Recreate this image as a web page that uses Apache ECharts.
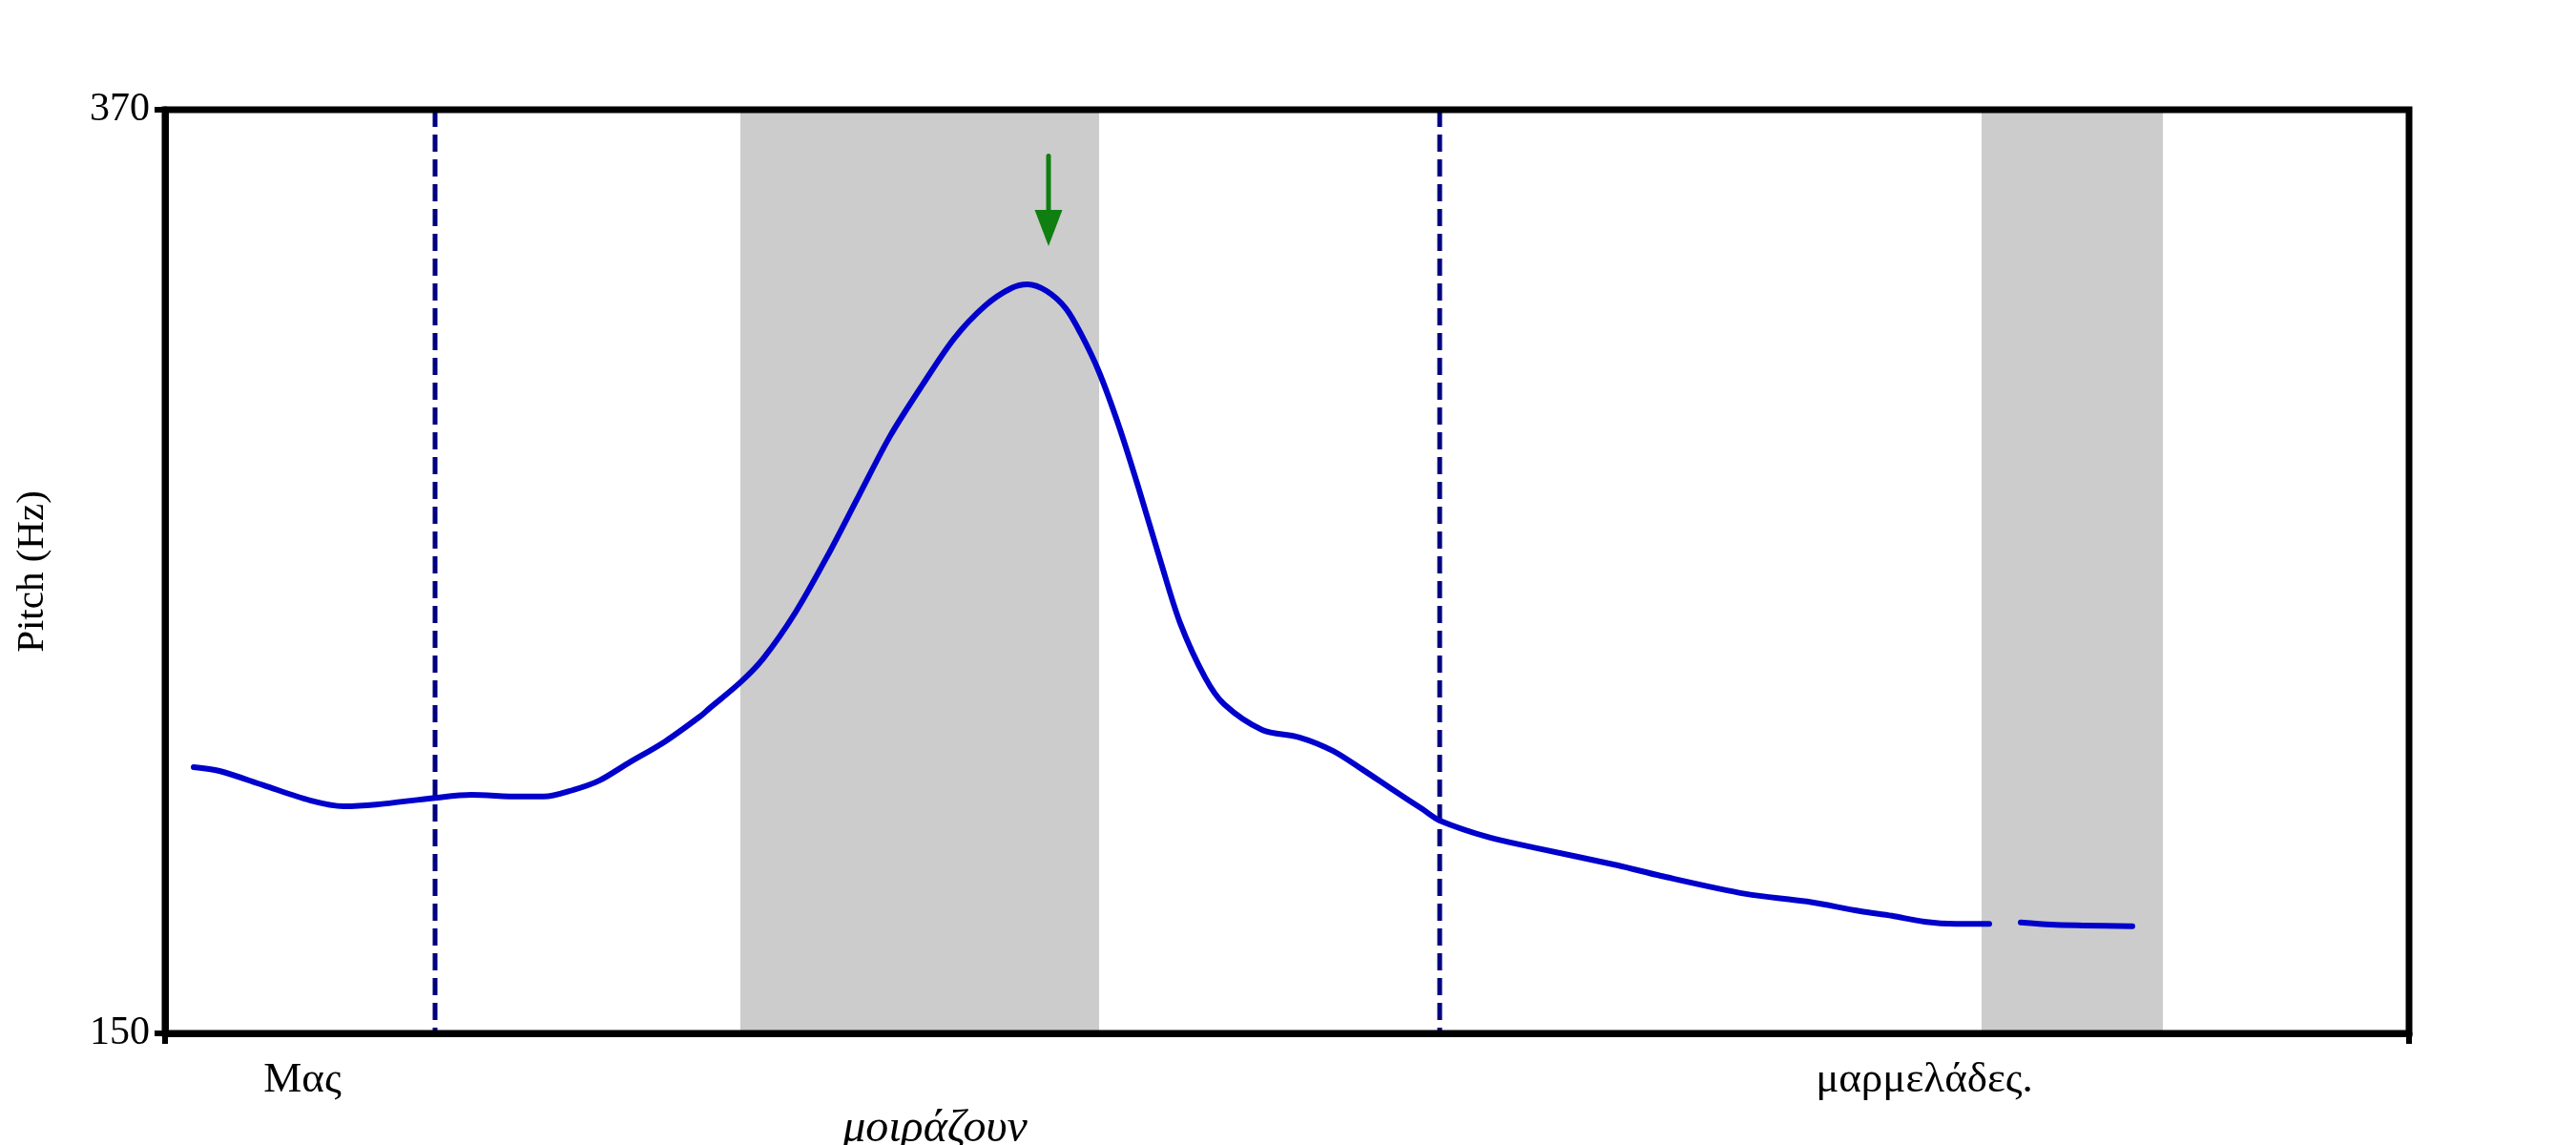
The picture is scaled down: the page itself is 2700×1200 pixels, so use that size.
<!DOCTYPE html>
<html>
<head>
<meta charset="utf-8">
<script src="https://cdn.jsdelivr.net/npm/echarts@6/dist/echarts.min.js"></script>
<style>
html,body{margin:0;padding:0;background:#fff;}
#chart{width:2700px;height:1200px;}
</style>
</head>
<body>
<div id="chart"></div>
<script>
// ---- data (time in s, pitch in Hz) ----
const times = [0.030,0.057,0.103,0.152,0.187,0.221,0.283,0.321,0.371,0.397,0.428,0.455,0.485,0.524,0.562,0.570,0.603,0.627,0.660,0.694,0.727,0.760,0.794,0.827,0.860,0.887,0.904,0.924,0.944,0.960,0.979,1.000,1.020,1.044,1.064,1.090,1.110,1.150,1.189,1.224,1.256,1.287,1.318,1.336,1.389,1.434,1.523,1.568,1.657,1.721,1.777,1.810,1.844,1.877,1.912,1.928,1.945,1.977,2.010,2.062];
const pitch = [213.4,212.5,209.1,205.5,204.1,204.5,206.1,206.8,206.4,206.4,208.0,210.2,214.3,219.5,225.7,227.3,233.6,239.3,250.0,263.6,278.0,292.3,304.5,315.5,323.4,327.5,328.4,326.8,322.7,316.6,307.5,294.5,280.2,262.0,247.7,234.8,228.4,222.3,220.5,217.3,212.7,208.0,203.4,200.7,196.6,194.3,190.0,187.5,183.2,181.4,179.1,178.0,176.6,176.1,176.1,null,176.4,175.9,175.7,175.5];
const boundaryTimes = [0.283, 1.336];
const shadedStart = [0.603, 1.904];
const shadedEnd = [0.979, 2.094];
const words = ['Μας', 'μοιράζουν', 'μαρμελάδες.'];
const wordTimes = [0.144, 0.807, 1.844];
const wordRow = [0, 1, 0];
const arrowTime = 0.926, arrowTopHz = 359, arrowTipHz = 337.5;
const yTicks = [150, 370];
const xMin = 0, xMax = 2.352, yMin = 150, yMax = 370;

const FONT = "'Liberation Serif','Times New Roman',serif";
const chart = echarts.init(document.getElementById('chart'), null, {renderer:'canvas'});

const lineData = times.map((t,i)=>[t, pitch[i]]);
const shadeData = shadedStart.map((s,i)=>[s, shadedEnd[i]]);
const boundaryData = boundaryTimes.map(t=>[t]);
const wordData = words.map((w,i)=>[wordTimes[i], wordRow[i], w]);

chart.setOption({
  animation:false,
  backgroundColor:'#fff',
  grid:{left:173, right:175, top:115, bottom:117, show:true, borderColor:'#000', borderWidth:7, backgroundColor:'transparent', z:10},
  xAxis:{type:'value', min:xMin, max:xMax,
    axisLine:{show:true, lineStyle:{color:'#000', width:7}},
    axisTick:{show:true, customValues:[xMin,xMax], length:11, lineStyle:{color:'#000', width:6}},
    axisLabel:{show:false}, splitLine:{show:false}},
  yAxis:{type:'value', min:yMin, max:yMax, name:'Pitch (Hz)', nameLocation:'middle', nameGap:118,
    nameRotate:90,
    nameTextStyle:{fontFamily:FONT, fontSize:41, color:'#000'},
    axisLine:{show:true, lineStyle:{color:'#000', width:7}},
    axisTick:{show:true, customValues:yTicks, length:11, lineStyle:{color:'#000', width:6}},
    axisLabel:{show:true, customValues:yTicks, margin:16, fontFamily:FONT, fontSize:42, color:'#000'},
    splitLine:{show:false}},
  series:[
    {type:'custom', z:1, silent:true, clip:false, data:shadeData,
      renderItem:function(params, api){
        const a = api.coord([api.value(0), yMax]);
        const b = api.coord([api.value(1), yMin]);
        return {type:'rect', shape:{x:a[0], y:a[1], width:b[0]-a[0], height:b[1]-a[1]}, style:{fill:'#cccccc'}};
      }},
    {type:'custom', z:3, silent:true, clip:false, data:boundaryData,
      renderItem:function(params, api){
        const a = api.coord([api.value(0), yMax]);
        const b = api.coord([api.value(0), yMin]);
        return {type:'line', shape:{x1:a[0], y1:a[1], x2:b[0], y2:b[1]}, style:{stroke:'#000080', lineWidth:5, lineDash:[18,8]}};
      }},
    {type:'line', z:4, data:lineData, showSymbol:false, symbol:'none', smooth:0.3, connectNulls:false,
      lineStyle:{color:'#0000cc', width:6, cap:'round', join:'round'}},
    {type:'custom', z:5, silent:true, clip:false, data:[[arrowTime, arrowTopHz, arrowTipHz]],
      renderItem:function(params, api){
        const top = api.coord([api.value(0), api.value(1)]);
        const tip = api.coord([api.value(0), api.value(2)]);
        const hl = 38, hw = 29, col = '#0f7f12';
        return {type:'group', children:[
          {type:'line', shape:{x1:top[0], y1:top[1], x2:tip[0], y2:tip[1]-hl+2}, style:{stroke:col, lineWidth:5, lineCap:'round'}},
          {type:'polygon', shape:{points:[[tip[0]-hw/2, tip[1]-hl],[tip[0]+hw/2, tip[1]-hl],[tip[0], tip[1]]]}, style:{fill:col}}
        ]};
      }},
    {type:'custom', z:6, silent:true, clip:false, data:wordData,
      renderItem:function(params, api){
        const p = api.coord([api.value(0), yMin]);
        const row = api.value(1);
        const w = words[params.dataIndex];
        return {type:'text', x:p[0], y:p[1] + (row ? 100 : 49),
          style:{text:w, fontFamily:FONT, fontSize: row ? 48 : 45, fontStyle: row ? 'italic' : 'normal',
            fontWeight:'normal', fill:'#000', align:'center', verticalAlign:'middle'}};
      }}
  ]
});
</script>
</body>
</html>
